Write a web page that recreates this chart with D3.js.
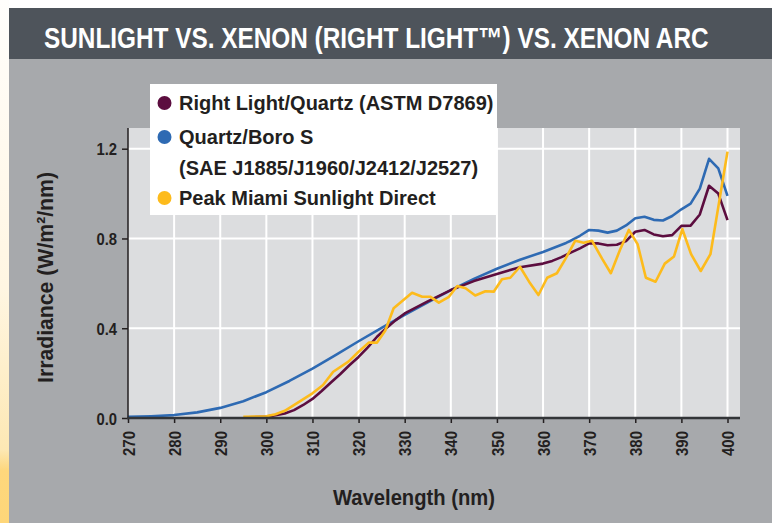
<!DOCTYPE html>
<html><head><meta charset="utf-8">
<script src="https://cdn.jsdelivr.net/npm/d3@7"></script>
<style>
html,body{margin:0;padding:0;background:#fff;}
svg{display:block;}
.nar{font-family:"Liberation Sans",Arial,Helvetica,sans-serif;font-weight:bold;}
.leg{font-family:"Liberation Sans",Arial,Helvetica,sans-serif;font-weight:bold;}
</style></head>
<body>
<svg id="c" width="776" height="523"></svg>
<script>
// ---- data ----
const title = "SUNLIGHT VS. XENON (RIGHT LIGHT\u2122) VS. XENON ARC";
const xTicks = [270,280,290,300,310,320,330,340,350,360,370,380,390,400];
const yTicks = [0.0,0.4,0.8,1.2];
const xTitle = "Wavelength (nm)";
const yTitle = "Irradiance (W/m\u00b2/nm)";
const seriesNames = ["Right Light/Quartz (ASTM D7869)","Quartz/Boro S","Peak Miami Sunlight Direct"];
const seriesSub = "(SAE J1885/J1960/J2412/J2527)";

const boroWl = [270,275,280,285,290,295,300,305,310,315,320,325,330,335,340,345,350,355,360,365,366,368,370,372,374,376,378,380,382,384,386,388,390,392,394,396,398,400];
const boroVal = [0.005,0.008,0.013,0.025,0.045,0.075,0.115,0.165,0.22,0.28,0.342,0.402,0.46,0.515,0.57,0.62,0.665,0.705,0.74,0.78,0.79,0.812,0.838,0.835,0.826,0.835,0.858,0.89,0.897,0.883,0.88,0.9,0.93,0.955,1.022,1.155,1.112,0.99];

const rlWl = [296,300,302,304,306,308,310,312,314,316,318,320,322,324,326,328,330,335,340,345,350,355,360,362,364,366,368,370,372,374,376,378,380,382,384,386,388,390,392,394,396,398,400];
const rlVal = [0.003,0.006,0.012,0.02,0.035,0.058,0.085,0.12,0.158,0.195,0.235,0.272,0.315,0.362,0.4,0.435,0.466,0.52,0.57,0.61,0.642,0.672,0.688,0.70,0.717,0.737,0.756,0.778,0.778,0.77,0.772,0.788,0.83,0.838,0.818,0.81,0.815,0.856,0.857,0.907,1.035,1.0,0.882];

const sunWl = [295,300,302,304,306.4,310,312.3,314.5,317.8,320,322.2,324,325.8,327.6,331.6,333.8,335.6,337.4,339.6,341.4,343.2,345.3,347.5,349.3,351.1,352.9,355,357.2,359,360.9,363,364.8,367,368.8,370.6,372.8,374.7,376.7,378.6,380.5,382.3,384.4,386.4,388.4,390.2,392.1,394.2,396.3,400];
const sunVal = [0.005,0.008,0.017,0.032,0.063,0.11,0.147,0.206,0.251,0.295,0.336,0.336,0.39,0.489,0.558,0.54,0.54,0.514,0.54,0.588,0.578,0.546,0.565,0.563,0.618,0.625,0.674,0.6,0.548,0.625,0.645,0.707,0.79,0.781,0.79,0.71,0.645,0.75,0.838,0.775,0.625,0.607,0.688,0.72,0.842,0.73,0.655,0.73,1.187];

const colors = ["#5c0d3f","#2e6ab3","#fdbb1c"];

// ---- layout ----
const svg = d3.select("#c");
const W = 776, H = 523;
const plot = {l:128, r:740, t:128, b:418};

function condense(sel, factor){
  sel.each(function(){
    const n = this.getComputedTextLength();
    d3.select(this).attr("textLength", n*factor).attr("lengthAdjust","spacingAndGlyphs");
  });
}
function fitTo(sel, target){
  sel.each(function(){
    d3.select(this).attr("textLength", target).attr("lengthAdjust","spacingAndGlyphs");
  });
}

const defs = svg.append("defs");
const g1 = defs.append("linearGradient").attr("id","strip").attr("x1",0).attr("y1",0).attr("x2",0).attr("y2",1);
[[0,"#fffefc"],[0.55,"#fff6e2"],[0.86,"#fde8b4"],[0.9,"#fed77c"],[1,"#fed679"]].forEach(s=>g1.append("stop").attr("offset",s[0]).attr("stop-color",s[1]));

svg.append("rect").attr("width",W).attr("height",H).attr("fill","#fff");
svg.append("rect").attr("x",0).attr("y",0).attr("width",9).attr("height",H).attr("fill","url(#strip)");
svg.append("rect").attr("x",9).attr("y",59).attr("width",763).attr("height",H-59).attr("fill","#a7a9ac");
svg.append("rect").attr("x",9).attr("y",8).attr("width",763).attr("height",51).attr("fill","#4e545b");
const tt = svg.append("text").attr("class","nar").attr("x",0).attr("y",0).attr("font-size",29)
  .attr("fill","#fff").text(title);
const tw = tt.node().getComputedTextLength();
tt.attr("transform",`translate(44,48) scale(${665/tw},1)`);

svg.append("rect").attr("x",plot.l).attr("y",plot.t).attr("width",plot.r-plot.l).attr("height",plot.b-plot.t).attr("fill","#dcdddf");

const x = d3.scaleLinear().domain([270,400]).range([128,727.5]);
const y = d3.scaleLinear().domain([0,1.2]).range([418,148.7]);

// grid
svg.append("g").selectAll("line").data(xTicks.slice(1)).join("line")
  .attr("x1",d=>x(d)).attr("x2",d=>x(d)).attr("y1",plot.t).attr("y2",plot.b)
  .attr("stroke","#fff").attr("stroke-width",2);
svg.append("g").selectAll("line").data(yTicks.slice(1)).join("line")
  .attr("x1",plot.l).attr("x2",plot.r).attr("y1",d=>y(d)).attr("y2",d=>y(d))
  .attr("stroke","#fff").attr("stroke-width",2);

// lines
const line = d3.line().x(d=>x(d[0])).y(d=>y(d[1]));
const sets = [[boroWl,boroVal,colors[1]],[rlWl,rlVal,colors[0]],[sunWl,sunVal,colors[2]]];
sets.forEach(s=>{
  svg.append("path").datum(s[0].map((w,i)=>[w,s[1][i]])).attr("d",line)
    .attr("fill","none").attr("stroke",s[2]).attr("stroke-width",2.6).attr("stroke-linejoin","round");
});

// axes
const ya = svg.append("g").attr("transform",`translate(${plot.l},0)`)
  .call(d3.axisLeft(y).tickValues(yTicks).tickFormat(d3.format(".1f")).tickSize(6).tickPadding(5));
ya.select(".domain").remove();
ya.selectAll(".tick line").attr("stroke","#231f20").attr("stroke-width",1.5);
ya.selectAll("text").attr("class","nar").attr("font-size",17).attr("fill","#231f20").attr("dy","0.36em");
condense(ya.selectAll("text"), 0.87);
svg.append("line").attr("x1",plot.l).attr("x2",plot.l).attr("y1",plot.t).attr("y2",plot.b+1)
  .attr("stroke","#231f20").attr("stroke-width",1.5);

const xa = svg.append("g").attr("transform",`translate(0,${plot.b})`)
  .call(d3.axisBottom(x).tickValues(xTicks).tickFormat(d3.format("d")).tickSize(5));
xa.select(".domain").remove();
xa.selectAll(".tick line").attr("stroke","#231f20").attr("stroke-width",1.5);
xa.selectAll("text").attr("class","nar").attr("font-size",17).attr("fill","#231f20")
  .attr("transform","rotate(-90)").attr("text-anchor","end").attr("x",-13).attr("y",0).attr("dy","0.36em");
condense(xa.selectAll("text"), 0.88);
svg.append("line").attr("x1",plot.l-1).attr("x2",plot.r).attr("y1",plot.b).attr("y2",plot.b)
  .attr("stroke","#333538").attr("stroke-width",2.5);

// axis titles
const yt = svg.append("text").attr("class","nar").attr("font-size",22).attr("fill","#231f20")
  .attr("text-anchor","middle").attr("transform","translate(53,277.5) rotate(-90)").text(yTitle);
fitTo(yt, 211);
const xt = svg.append("text").attr("class","nar").attr("font-size",22).attr("fill","#231f20")
  .attr("text-anchor","middle").attr("x",414).attr("y",505).text(xTitle);
fitTo(xt, 162);

// legend
svg.append("rect").attr("x",150).attr("y",84).attr("width",347).attr("height",131).attr("fill","#fff");
const legRows = [[seriesNames[0],colors[0],103],[seriesNames[1],colors[1],137],[seriesSub,null,168],[seriesNames[2],colors[2],198]];
legRows.forEach(r=>{
  if(r[1]) svg.append("circle").attr("cx",164.5).attr("cy",r[2]).attr("r",7).attr("fill",r[1]);
  svg.append("text").attr("class","leg").attr("x",179).attr("y",r[2]).attr("dy","0.35em")
    .attr("font-size",20).attr("fill","#231f20").text(r[0]);
});
</script>
</body></html>
